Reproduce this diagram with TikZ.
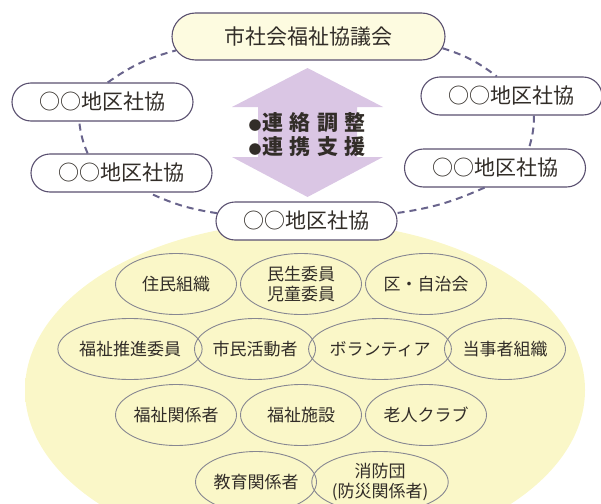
\documentclass[tikz,border=0pt]{standalone}
\usepackage{fontspec}
\setmainfont{Noto Sans CJK JP}
\newfontfamily\widejp[LetterSpace=30]{Noto Sans CJK JP}
\usetikzlibrary{shapes.misc,shapes.geometric,positioning}

\definecolor{txtgray}{RGB}{50,45,40}
\definecolor{linepurple}{RGB}{90,80,112}
\definecolor{dashpurple}{RGB}{105,100,140}
\definecolor{topfill}{RGB}{253,251,224}
\definecolor{arrowlilac}{RGB}{218,198,228}
\definecolor{bgyellow}{RGB}{250,247,200}
\definecolor{bgedge}{RGB}{254,253,240}
\definecolor{ovalgray}{RGB}{135,135,145}
\pgfdeclareradialshading{bgglow}{\pgfpoint{0bp}{0bp}}{color(0bp)=(bgyellow); color(28bp)=(bgyellow); color(50bp)=(bgedge)}

\begin{document}
\begin{tikzpicture}[
        x=1pt, y=-1pt,
        % Block styles
        pill/.style={
            rounded rectangle,
            draw=linepurple,
            line width=1.1pt,
            fill=white,
            minimum width=181pt,
            minimum height=38pt,
            inner sep=0pt,
            text=txtgray,
            font=\fontsize{21}{24}\selectfont
        },
        toppill/.style={
            pill,
            fill=topfill,
            minimum width=273pt,
            minimum height=47pt
        },
        oval/.style={
            ellipse,
            draw=ovalgray,
            line width=0.9pt,
            minimum width=121pt,
            minimum height=61pt,
            inner sep=0pt,
            align=center,
            text=txtgray,
            font=\fontsize{17}{20}\selectfont
        },
        link/.style={draw=dashpurple, line width=2pt, dash pattern=on 7pt off 5pt}
    ]

    % Background
    \begin{scope}
        \clip (0,0) rectangle (601,503);
        \path[shading=bgglow] (305,390) ellipse [x radius=280, y radius=168];
    \end{scope}
    \useasboundingbox (0,0) rectangle (601,503);

    % Council and district councils
    \node[toppill] (top) at (308.5,36.5) {市社会福祉協議会};
    \node[pill] (lu) at (102.5,102) {○○地区社協};
    \node[pill] (ll) at (121.5,173) {○○地区社協};
    \node[pill] (ru) at (511.5,96) {○○地区社協};
    \node[pill] (rl) at (495,168) {○○地区社協};
    \node[pill] (bot) at (306.5,221) {○○地区社協};

    % Double arrow
    \fill[arrowlilac] (307.5,68) -- (383,107) -- (357,107) -- (357,157) -- (383,157)
        -- (307.5,197) -- (232,157) -- (258,157) -- (258,107) -- (232,107) -- cycle;
    \node[align=left, text=txtgray, font=\widejp\bfseries\fontsize{21}{24}\selectfont] (tasks) at (307,135)
        {{\fontsize{13}{13}\selectfont ●}\hspace{1pt}連絡調整\\{\fontsize{13}{13}\selectfont ●}\hspace{1pt}連携支援};

    % Ring
    \draw[link] (top.-5) to[bend left=10] (ru.127);
    \draw[link] (ru.-41) to[bend left=8] (rl.30);
    \draw[link] (rl.242) to[bend left=8] (bot.5);
    \draw[link] (bot.175) to[bend left=8] (ll.-36);
    \draw[link] (ll.150) to[bend left=8] (lu.220);
    \draw[link] (lu.75) to[bend left=10] (top.186);

    % Local members
    \node[oval] (jumin) at (176,284) {住民組織};
    \node[oval] (minsei) at (301,284) {民生委員\\児童委員};
    \node[oval] (jichikai) at (426,284) {区・自治会};
    \node[oval] (suishin) at (130,349) {福祉推進委員};
    \node[oval] (katsudo) at (255,349) {市民活動者};
    \node[oval] (volunteer) at (380,349) {ボランティア};
    \node[oval] (tojisha) at (505,349) {当事者組織};
    \node[oval] (kankei) at (176,415) {福祉関係者};
    \node[oval] (shisetsu) at (301,415) {福祉施設};
    \node[oval] (rojin) at (426,415) {老人クラブ};
    \node[oval] (kyoiku) at (256,482) {教育関係者};
    \node[oval] (shobo) at (380,482) {消防団\\(防災関係者)};

\end{tikzpicture}
\end{document}
